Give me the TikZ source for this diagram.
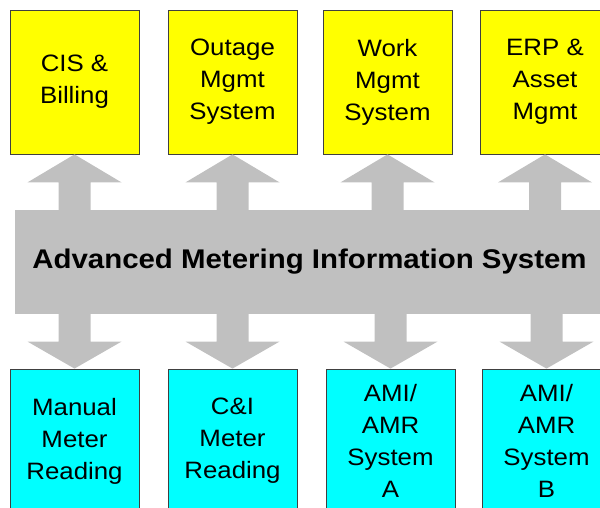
\documentclass[tikz,border=0pt]{standalone}
\usepackage{fontspec}
\setmainfont[FakeStretch=1.09]{Liberation Sans}

\definecolor{sysyellow}{HTML}{FFFF00}
\definecolor{metercyan}{HTML}{00FFFF}
\definecolor{busgrey}{HTML}{C0C0C0}

\tikzset{
	sysbox/.style={draw=black!75, line width=0.8pt, fill=sysyellow, inner sep=0pt,
		minimum width=129pt, minimum height=144pt, align=center,
		font=\fontsize{23.7}{32}\selectfont},
	meterbox/.style={sysbox, fill=metercyan},
	bus/.style={fill=busgrey, inner sep=0pt, minimum width=589pt, minimum height=104pt,
		font=\fontsize{27}{32}\selectfont\bfseries}
}

\begin{document}
\begin{tikzpicture}[x=1pt,y=1pt]
		\useasboundingbox (0,0) rectangle (600,508);

		% enterprise systems on top
		\node[sysbox] (cis) at (74.5,426) {CIS \&\\Billing};
		\node[sysbox] (oms) at (232.5,426) {Outage\\Mgmt\\System};
		\node[sysbox] (wms) at (387.5,426) {Work\\Mgmt\\System};
		\node[sysbox] (erp) at (545,426) {ERP \&\\Asset\\Mgmt};

		% meter data sources below
		\node[meterbox] (mmr) at (74.5,67) {Manual\\Meter\\Reading};
		\node[meterbox] (cimr) at (232.5,67) {C\&I\\Meter\\Reading};
		\node[meterbox] (amia) at (390.5,67) {AMI/\\AMR\\System\\A};
		\node[meterbox] (amib) at (546.5,67) {AMI/\\AMR\\System\\B};

		\node[bus] (bus) at (309.5,246) {Advanced Metering Information System};

		% block arrows out of the bus
		\foreach \b in {cis,oms,wms,erp}
			\fill[busgrey] (\b.south) -- ++(47,-28) -- ++(-31,0) -- ++(0,-29)
				-- ++(-32,0) -- ++(0,29) -- ++(-31,0) -- cycle;
		\foreach \b in {mmr,cimr,amia,amib}
			\fill[busgrey] (\b.north) -- ++(47,27) -- ++(-31,0) -- ++(0,29)
				-- ++(-32,0) -- ++(0,-29) -- ++(-31,0) -- cycle;
\end{tikzpicture}
\end{document}
